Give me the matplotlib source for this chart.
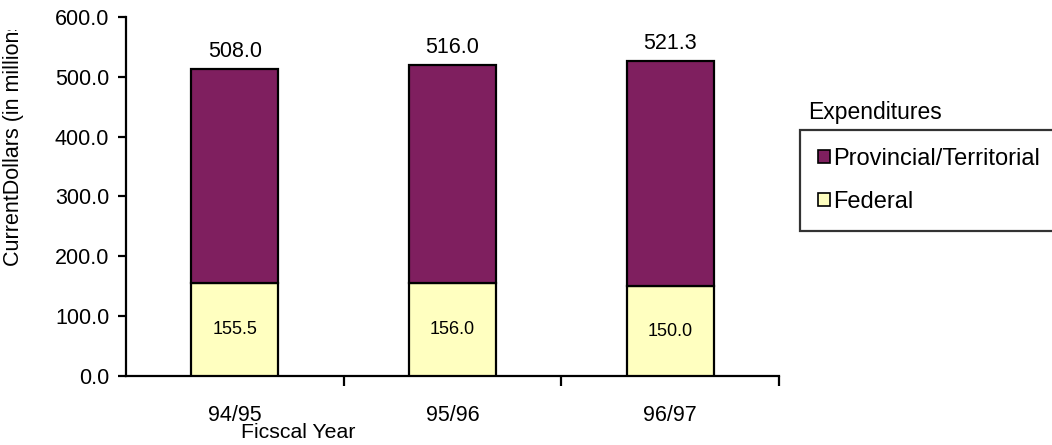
import matplotlib.pyplot as plt
from matplotlib.patches import Patch, Rectangle

plt.rcParams['font.family'] = ['Liberation Sans', 'DejaVu Sans']

years = ["94/95", "95/96", "96/97"]
federal = [155.5, 156.0, 150.0]
provincial = [358.0, 364.0, 377.0]
total_labels = ["508.0", "516.0", "521.3"]

purple = "#7f1f5f"
yellow = "#ffffc0"

fig = plt.figure(figsize=(10.52, 4.45), dpi=100)
ax = fig.add_axes([126 / 1052, 1 - 376 / 445, (779 - 126) / 1052, (376 - 17) / 445])

x = range(len(years))
ax.bar(x, federal, width=0.4, color=yellow, edgecolor="black", linewidth=1.6, zorder=3)
ax.bar(x, provincial, width=0.4, bottom=federal, color=purple, edgecolor="black",
       linewidth=1.6, zorder=3)

for i in x:
    top = federal[i] + provincial[i]
    ax.annotate(total_labels[i], xy=(i, top), xytext=(0, 5), textcoords="offset points",
                ha="center", va="bottom", fontsize=15.5)
    ax.text(i, federal[i] / 2, f"{federal[i]:.1f}", ha="center", va="center", fontsize=13,
            zorder=4)

ax.set_xlim(-0.5, 2.5)
ax.set_ylim(0, 600)
ax.set_yticks(range(0, 601, 100))
ax.set_yticklabels([f"{v:.1f}" for v in range(0, 601, 100)], fontsize=15.5)
ax.set_xticks(list(x))
ax.set_xticklabels(years, fontsize=15.5)
ax.set_xticks([0.5, 1.5, 2.5], minor=True)
ax.tick_params(axis="x", which="major", length=0, pad=21)
ax.tick_params(axis="x", which="minor", length=7, width=1.6, direction="out")
ax.tick_params(axis="y", length=6, width=1.6, direction="out", pad=6)

for side in ["top", "right"]:
    ax.spines[side].set_visible(False)
for side in ["left", "bottom"]:
    ax.spines[side].set_linewidth(1.6)

fig.text(298 / 1052, 1 - 432 / 445, "Ficscal Year", ha="center", va="center", fontsize=15.3)

ylab = fig.text(14 / 1052, 1 - 266 / 445, "CurrentDollars (in millions)", rotation=90,
                ha="center", va="bottom", fontsize=15.5)
clip = Rectangle((0, 0), 0.1, 1 - 30 / 445, transform=fig.transFigure, visible=False)
fig.add_artist(clip)
ylab.set_clip_path(clip)

fig.text(808 / 1052, 1 - 112 / 445, "Expenditures", ha="left", va="center", fontsize=16.5)

handles = [Patch(facecolor=purple, edgecolor="black", linewidth=1.2),
           Patch(facecolor=yellow, edgecolor="black", linewidth=1.2)]
leg = fig.legend(handles, ["Provincial/Territorial", "Federal"],
                 loc="upper left", bbox_to_anchor=(800 / 1052, 1 - 130 / 445),
                 fontsize=17, frameon=True, fancybox=False, handlelength=0.5,
                 handleheight=0.5, handletextpad=0.15, labelspacing=0.9,
                 borderpad=0.75, borderaxespad=0)
leg.get_frame().set_edgecolor("black")
leg.get_frame().set_linewidth(1.6)

fig.savefig("out.png", dpi=100)
